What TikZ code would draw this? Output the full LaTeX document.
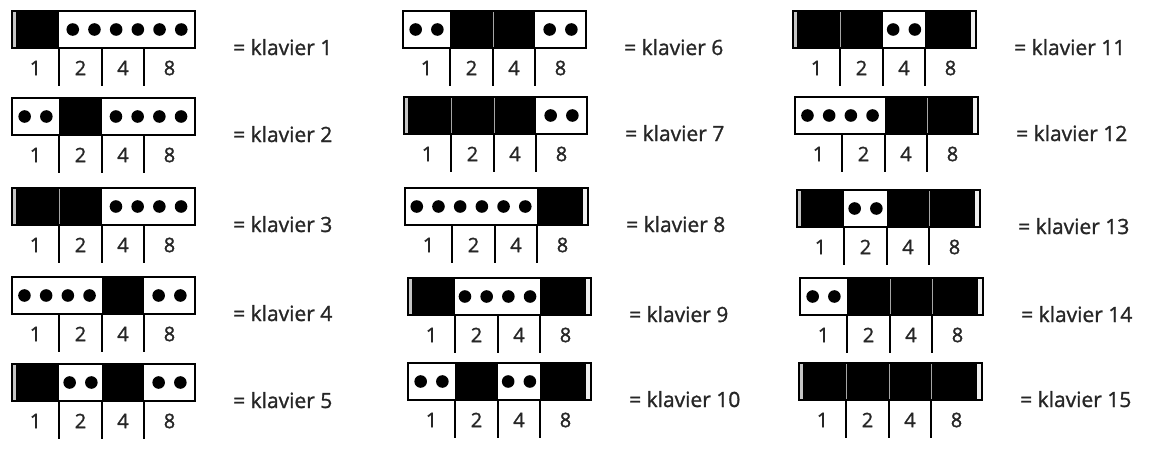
\documentclass[tikz,border=0pt]{standalone}
\usepackage{fontspec}
\setmainfont{Open Sans}
\newfontfamily\labfont[FakeBold=1.2]{Open Sans}
\newcommand\dipswitch[4]{% #1 number, #2 x, #3 y, #4 white runs a/b
  \begin{scope}[shift={(#2,#3)}]
    \foreach \k in {0,1,2,3}{
      \pgfmathtruncatemacro\bit{mod(floor(#1/(2^\k)),2)}
      \pgfmathsetmacro\xl{{0,47,90,132,183}[\k]}
      \pgfmathsetmacro\xr{{0,47,90,132,183}[\k+1]}
      \ifnum\bit=1 \fill[black] (\xl,0) rectangle (\xr,37); \fi
    }
    \foreach \k in {0,1,2}{
      \pgfmathtruncatemacro\bita{mod(floor(#1/(2^\k)),2)}
      \pgfmathtruncatemacro\bitb{mod(floor(#1/(2^(\k+1))),2)}
      \pgfmathsetmacro\xm{{0,47,90,132,183}[\k+1]}
      \pgfmathtruncatemacro\both{\bita*\bitb}
      \ifnum\both=1 \draw[sepline] (\xm,1) -- (\xm,36); \fi
    }
    \pgfmathtruncatemacro\bitl{mod(#1,2)}
    \ifnum\bitl=1 \fill[leftstrip] (0.9,0.9) rectangle (3.8,36.1); \fi
    \pgfmathtruncatemacro\bitr{mod(floor(#1/8),2)}
    \ifnum\bitr=1 \fill[rightstrip] (178,0.9) rectangle (182.1,36.1); \fi
    \if\relax\detokenize{#4}\relax\else
    \foreach \a/\b in {#4}{
      \pgfmathsetmacro\xa{{0,47,90,132,183}[\a]}
      \pgfmathsetmacro\xb{{0,47,90,132,183}[\b]}
      \pgfmathtruncatemacro\nd{2*(\b-\a)}
      \pgfmathsetmacro\cx{(\xa+\xb)/2}
      \foreach \i in {1,...,\nd}{
        \fill[black] ({\cx+(\i-(\nd+1)/2)*21.7},18.5) circle (6.3);
      }
    }
    \fi
    \draw[boxline] (0,0) rectangle (183,37);
    \foreach \k in {1,2,3}{
      \pgfmathsetmacro\xm{{0,47,90,132,183}[\k]}
      \draw[tick] (\xm,37) -- (\xm,75);
    }
    \foreach \k/\d in {0/1,1/2,2/4,3/8}{
      \pgfmathsetmacro\xp{{0,47,90,132,183}[\k]}
      \pgfmathsetmacro\xq{{0,47,90,132,183}[\k+1]}
      \pgfmathsetmacro\xc{(\xp+\xq)/2}
      \node[digit] (d#1-\d) at (\xc,57) {\d};
    }
    \node[lab] (lab#1) at (221,44) {= klavier #1};
  \end{scope}}
\begin{document}
\begin{tikzpicture}[x=1pt,y=-1pt,
  boxline/.style={line width=1.9pt},
  tick/.style={line width=1.8pt},
  sepline/.style={gray!70, line width=0.9pt},
  leftstrip/.style={fill=gray!45},
  rightstrip/.style={fill=gray!12},
  digit/.style={font=\labfont\fontsize{20}{20}\selectfont, text=black!85, inner sep=0pt},
  lab/.style={font=\labfont\fontsize{21}{21}\selectfont, text=black!85, anchor=base west, inner sep=0pt}]
\useasboundingbox (0,0) rectangle (1156,458);
\fill[white] (0,0) rectangle (1156,458);
% column 1
\dipswitch{1}{12}{11}{1/4}
\dipswitch{2}{12}{98}{0/1,2/4}
\dipswitch{3}{12}{188}{2/4}
\dipswitch{4}{12}{277}{0/2,3/4}
\dipswitch{5}{12}{364}{1/2,3/4}
% column 2
\dipswitch{6}{403}{11}{0/1,3/4}
\dipswitch{7}{404}{97}{3/4}
\dipswitch{8}{405}{188}{0/3}
\dipswitch{9}{408}{278}{1/3}
\dipswitch{10}{408}{363}{0/1,2/3}
% column 3
\dipswitch{11}{793}{11}{2/3}
\dipswitch{12}{795}{97}{0/2}
\dipswitch{13}{797}{190}{1/2}
\dipswitch{14}{800}{278}{0/1}
\dipswitch{15}{799}{363}{}
\end{tikzpicture}
\end{document}
